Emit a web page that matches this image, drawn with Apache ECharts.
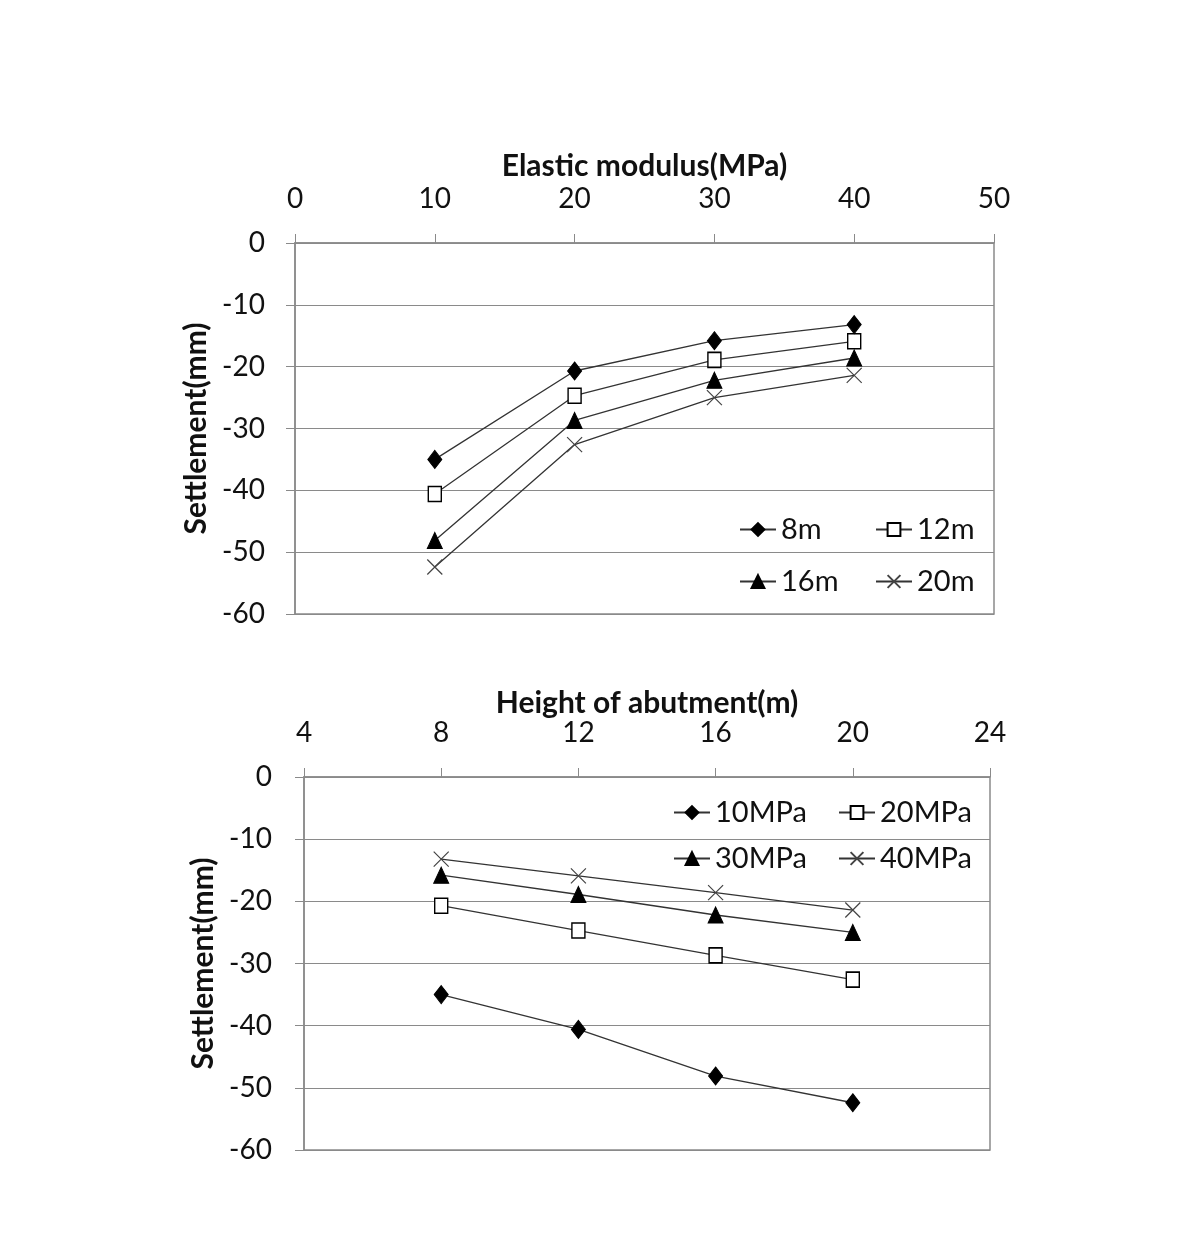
<!DOCTYPE html>
<html><head><meta charset="utf-8">
<script src="https://cdn.jsdelivr.net/npm/echarts@6/dist/echarts.min.js"></script>
<style>html,body{margin:0;padding:0;background:#fff}#c{width:1190px;height:1241px}</style>
</head><body><div id="c"></div>
<script>
// Elastic modulus categories (MPa) and abutment heights (m)
const modulus = [10, 20, 30, 40];
const heights = [8, 12, 16, 20];
// Settlement (mm) per abutment height, at modulus 10,20,30,40
const h8m  = [-35.0, -20.7, -15.8, -13.2];
const h12m = [-40.6, -24.7, -18.9, -15.9];
const h16m = [-48.1, -28.7, -22.2, -18.6];
const h20m = [-52.4, -32.6, -25.0, -21.4];
const topNames = ['8m', '12m', '16m', '20m'];
const botNames = ['10MPa', '20MPa', '30MPa', '40MPa'];
const xTicksTop = [0, 10, 20, 30, 40, 50];
const xTicksBot = [4, 8, 12, 16, 20, 24];
const yTicks = [-60, -50, -40, -30, -20, -10, 0];

const byHeight = [h8m, h12m, h16m, h20m];
// transpose: settlement per modulus across heights
const byModulus = modulus.map((m, j) => byHeight.map(row => row[j]));

const FONT = 'Lato';
const crossPath = 'path://M0,0L10,10M10,0L0,10';
const symbols = [
  {symbol: 'diamond', size: [14, 18], item: {color: '#000', borderColor: '#000', borderWidth: 1}},
  {symbol: 'rect', size: [13, 15], item: {color: '#fff', borderColor: '#000', borderWidth: 1.5}},
  {symbol: 'triangle', size: [15, 16], item: {color: '#000', borderColor: '#000', borderWidth: 1}},
  {symbol: crossPath, size: [15, 15], item: {color: 'none', borderColor: '#444', borderWidth: 1.2}}
];

function mkSeries(names, data, xs, idx) {
  return names.map((n, i) => ({
    name: n, type: 'line', xAxisIndex: idx, yAxisIndex: idx,
    data: xs.map((x, k) => [x, data[i][k]]),
    symbol: symbols[i].symbol, symbolSize: symbols[i].size,
    itemStyle: symbols[i].item,
    lineStyle: {color: '#333', width: 1.3},
    z: 10 - i
  }));
}

const gridLine = '#8a8a8a';
function xAx(idx, name, ticks, gap) {
  return {
    gridIndex: idx, type: 'value', position: 'top',
    min: ticks[0], max: ticks[ticks.length - 1], interval: ticks[1] - ticks[0],
    name: name, nameLocation: 'middle', nameGap: gap,
    nameTextStyle: {fontFamily: FONT, fontWeight: 'bold', fontSize: 30, color: '#111'},
    axisLine: {lineStyle: {color: gridLine, width: 1.5}},
    axisTick: {show: true, inside: false, length: 9, lineStyle: {color: gridLine}},
    axisLabel: {fontFamily: FONT, fontSize: 28, color: '#111', margin: 30},
    splitLine: {show: false}
  };
}
function yAx(idx, gap, margin) {
  return {
    gridIndex: idx, type: 'value', min: -60, max: 0, interval: 10,
    name: 'Settlement(mm)', nameLocation: 'middle', nameGap: gap, nameRotate: 90,
    nameTextStyle: {fontFamily: FONT, fontWeight: 'bold', fontSize: 30, color: '#111'},
    axisLine: {show: true, lineStyle: {color: gridLine, width: 1.5}},
    axisTick: {show: true, length: 9, lineStyle: {color: gridLine}},
    axisLabel: {fontFamily: FONT, fontSize: 28, color: '#111', margin: margin},
    splitLine: {show: true, lineStyle: {color: gridLine, width: 1.2}}
  };
}
function leg(name, left, top) {
  return {
    data: [name], left: left, top: top, itemWidth: 36, itemHeight: 16, itemGap: 4,
    textStyle: {fontFamily: FONT, fontSize: 29, color: '#111'}, selectedMode: false
  };
}

const chart = echarts.init(document.getElementById('c'));
chart.setOption({
  animation: false,
  backgroundColor: '#fff',
  grid: [
    {left: 295, top: 243, width: 699, height: 371, show: true, borderColor: gridLine, borderWidth: 1.5},
    {left: 304, top: 777, width: 686, height: 373, show: true, borderColor: gridLine, borderWidth: 1.5}
  ],
  xAxis: [xAx(0, 'Elastic modulus(MPa)', xTicksTop, 62), xAx(1, 'Height of abutment(m)', xTicksBot, 59)],
  yAxis: [yAx(0, 83, 30), yAx(1, 85, 32)],
  legend: [
    leg('8m', 734, 510), leg('12m', 870, 510), leg('16m', 734, 562), leg('20m', 870, 562),
    leg('10MPa', 668, 793), leg('20MPa', 833, 793), leg('30MPa', 668, 839), leg('40MPa', 833, 839)
  ],
  series: mkSeries(topNames, byHeight, modulus, 0).concat(mkSeries(botNames, byModulus, heights, 1))
});
</script></body></html>
